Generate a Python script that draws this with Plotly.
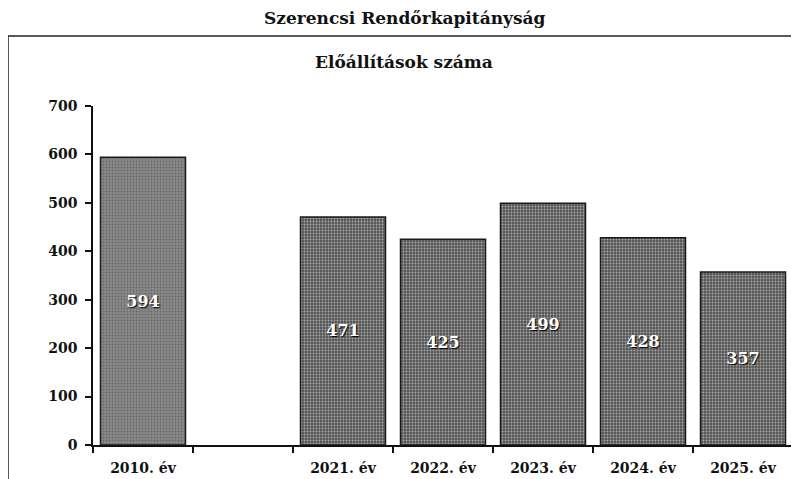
import plotly.graph_objects as go

categories = ["2010. év", " ", "2021. év", "2022. év", "2023. év", "2024. év", "2025. év"]
values = [594, None, 471, 425, 499, 428, 357]
bar_colors = ["#8a8a8a", "#565656", "#565656", "#565656", "#565656", "#565656", "#565656"]
dot_colors = ["#cbcbcb", "#8c8c8c", "#8c8c8c", "#8c8c8c", "#8c8c8c", "#8c8c8c", "#8c8c8c"]
y_ticks = [0, 100, 200, 300, 400, 500, 600, 700]

page_title = "Szerencsi Rendőrkapitányság"
chart_title = "Előállítások száma"

FONT = "DejaVu Serif"

# the page body adds an 8px margin, so the figure is laid out in shifted coordinates
OFF = 8
W, H = 799 - OFF, 479 - OFF
PL, PR, PT, PB = 93, 793, 106, 445          # plot area in window pixels
L, R, T, B = PL - OFF, W - (PR - OFF), PT - OFF, H - (PB - OFF)
pw, ph = W - L - R, H - T - B


def px_x(x):
    return (x - OFF - L) / pw


def px_y(y):
    return (H - B - (y - OFF)) / ph


fig = go.Figure()
fig.add_trace(go.Bar(
    x=categories,
    y=values,
    text=["" if v is None else str(v) for v in values],
    textposition="inside",
    insidetextanchor="middle",
    textangle=0,
    textfont=dict(family=FONT, size=16, color="white", weight="bold",
                  shadow="1px 1px 1px #000"),
    marker=dict(
        color=bar_colors,
        line=dict(color="#1a1a1a", width=1.5),
        pattern=dict(shape=".", size=3, solidity=0.3, fgcolor=dot_colors,
                     fillmode="overlay"),
    ),
    cliponaxis=False,
    hoverinfo="skip",
))

fig.update_layout(
    width=W, height=H,
    margin=dict(l=L, r=R, t=T, b=B, autoexpand=False),
    paper_bgcolor="white", plot_bgcolor="white",
    showlegend=False,
    bargap=0.15,
    font=dict(family=FONT, color="#111"),
    xaxis=dict(
        type="category",
        categoryorder="array", categoryarray=categories,
        showline=True, linecolor="#111", linewidth=1.5,
        ticks="outside", tickson="boundaries", ticklen=6, tickwidth=1.5, tickcolor="#111",
        ticklabelstandoff=9,
        tickfont=dict(family=FONT, size=14, color="#111", weight="bold"),
        showgrid=False, zeroline=False, fixedrange=True,
    ),
    yaxis=dict(
        range=[0, 700], tickvals=y_ticks,
        showline=True, linecolor="#111", linewidth=1.5,
        ticks="outside", ticklen=6, tickwidth=1.5, tickcolor="#111",
        ticklabelstandoff=5,
        tickfont=dict(family=FONT, size=14, color="#111", weight="bold"),
        showgrid=False, zeroline=False, fixedrange=True,
    ),
    shapes=[dict(
        type="rect", xref="paper", yref="paper",
        x0=px_x(8), x1=px_x(797), y0=px_y(500), y1=px_y(36),
        line=dict(color="#222", width=1.5), fillcolor="rgba(0,0,0,0)", layer="above",
    )],
    annotations=[
        dict(text=page_title, xref="paper", yref="paper", x=px_x(404), y=px_y(18),
             xanchor="center", yanchor="middle", showarrow=False,
             font=dict(family=FONT, size=17, color="#111", weight="bold")),
        dict(text=chart_title, xref="paper", yref="paper", x=px_x(404), y=px_y(62),
             xanchor="center", yanchor="middle", showarrow=False,
             font=dict(family=FONT, size=17, color="#111", weight="bold")),
    ],
)

fig.write_html("out.html")
